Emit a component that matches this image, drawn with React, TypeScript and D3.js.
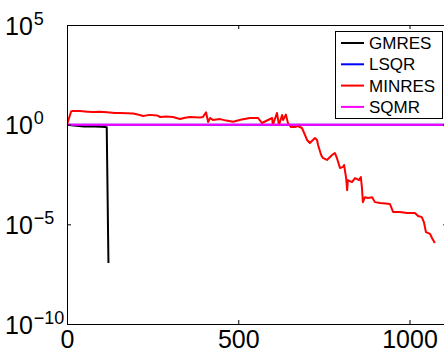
import { useEffect, useRef } from "react";
import * as d3 from "d3";

// iteration counts and relative residuals
const gmresIter = [0, 20, 50, 80, 100, 111, 116, 117, 118, 119, 120, 121];
const gmresRes = [1.0, 0.9, 0.82, 0.8, 0.78, 0.76, 0.74, 0.03, 1.5e-3, 6e-5, 2.5e-6, 1.15e-7];

const lsqrIter = [0, 300, 700, 1110];
const lsqrRes = [1.0, 1.0, 1.0, 1.0];

const minresIter = [
    0, 12, 15, 38, 60, 76, 96, 117, 140, 155, 175, 193, 213, 222, 242, 263, 272,
    290, 309, 330, 345, 359, 388, 397, 406, 412, 418, 426, 447, 465, 485, 510,
    534, 558, 569, 599, 601, 613, 619, 628, 631, 639, 645, 654, 666, 674, 686,
    695, 701, 709, 724, 730, 733, 742, 747, 759, 774, 782, 788, 797, 806, 809,
    815, 818, 820, 832, 841, 853, 858, 861, 864, 870, 879, 891, 899, 914, 930,
    943, 952, 972, 993, 1016, 1025, 1036, 1042, 1048, 1060, 1066, 1074,
];
const minresRes = [
    1.0, 4.6, 4.8, 4.8, 4.5, 4.3, 4.4, 4.2, 3.9, 3.85, 3.7, 3.6, 3.05, 2.7, 3.1,
    2.9, 2.42, 2.6, 2.42, 1.92, 2.2, 2.42, 2.3, 2.4, 4.2, 1.36, 2.16, 1.71, 1.9,
    1.6, 1.4, 1.8, 2.16, 2.16, 1.21, 2.16, 0.96, 3.85, 0.96, 3.05, 1.71, 3.2,
    1.21, 0.76, 0.76, 0.855, 0.68, 0.303, 0.17, 0.12, 0.214, 0.17, 0.095, 0.03,
    0.0214, 0.017, 0.03, 0.038, 0.0214, 0.0067, 0.0076, 0.0095, 0.0021, 0.00052,
    0.00166, 0.00132, 0.0021, 0.00166, 0.00234, 0.00074, 0.00013, 0.00023,
    0.00021, 0.00023, 0.00013, 0.000117, 0.00011, 0.000104, 0.000042, 0.000042,
    0.000037, 0.000037, 0.000026, 0.000023, 0.000013, 0.0000041, 0.0000033,
    0.000002, 0.00000115,
];

const sqmrIter = [0, 180, 600, 1110];
const sqmrRes = [1.0, 1.0, 1.0, 1.0];

const seriesNames = ["GMRES", "LSQR", "MINRES", "SQMR"];
const seriesColors = ["#000000", "#0000ff", "#ff0000", "#ff00ff"];

const xTicks = [0, 500, 1000];
const yTickExp = [5, 0, -5, -10];

export default function App() {
    const ref = useRef<SVGSVGElement>(null);

    useEffect(() => {
        const svg = d3.select(ref.current);
        svg.selectAll("*").remove();

        const left = 67;
        const top = 25;
        const bottom = 324;
        const right = left + 1110 * 0.3425;

        const x = d3.scaleLinear().domain([0, 1110]).range([left, right]);
        const y = d3.scaleLog().domain([1e-10, 1e5]).range([bottom, top]);

        const font = "'Liberation Sans', Arial, sans-serif";

        svg.append("defs")
            .append("clipPath")
            .attr("id", "plot-clip")
            .append("rect")
            .attr("x", left)
            .attr("y", top)
            .attr("width", right - left)
            .attr("height", bottom - top);

        const plot = svg.append("g").attr("clip-path", "url(#plot-clip)");

        const allSeries = [
            { it: gmresIter, r: gmresRes },
            { it: lsqrIter, r: lsqrRes },
            { it: minresIter, r: minresRes },
            { it: sqmrIter, r: sqmrRes },
        ];

        const line = d3
            .line<[number, number]>()
            .x((d) => x(d[0]))
            .y((d) => y(d[1]));

        allSeries.forEach((s, i) => {
            plot.append("path")
                .datum(s.it.map((v, j) => [v, s.r[j]] as [number, number]))
                .attr("fill", "none")
                .attr("stroke", seriesColors[i])
                .attr("stroke-width", 2)
                .attr("stroke-linejoin", "round")
                .attr("d", line);
        });

        // axes, ticks pointing inside like matlab
        const yTickVals = yTickExp.map((e) => Math.pow(10, e));

        svg.append("g")
            .attr("transform", `translate(0,${bottom})`)
            .call(
                d3.axisBottom(x)
                    .tickValues(xTicks)
                    .tickSize(-4)
                    .tickSizeOuter(0)
                    .tickPadding(6)
                    .tickFormat(d3.format("d"))
            )
            .call((g) => g.selectAll("text").attr("font-size", 25).attr("font-family", font).attr("fill", "#000"));

        svg.append("g")
            .attr("transform", `translate(0,${top})`)
            .call(d3.axisTop(x).tickValues(xTicks).tickSize(-4).tickSizeOuter(0).tickFormat(() => ""));

        svg.append("g")
            .attr("transform", `translate(${left},0)`)
            .call(d3.axisLeft(y).tickValues(yTickVals).tickSize(-4).tickSizeOuter(0).tickFormat(() => ""));

        svg.append("g")
            .attr("transform", `translate(${right},0)`)
            .call(d3.axisRight(y).tickValues(yTickVals).tickSize(-4).tickSizeOuter(0).tickFormat(() => ""));

        svg.selectAll(".domain, .tick line").attr("stroke", "#000");

        // y tick labels as 10^n, left aligned
        yTickExp.forEach((e) => {
            const yy = y(Math.pow(10, e));
            const t = svg.append("text")
                .attr("x", 5)
                .attr("y", yy + 9.5)
                .attr("font-family", font)
                .attr("font-size", 25)
                .attr("fill", "#000");
            t.append("tspan").text("10");
            t.append("tspan")
                .attr("font-size", 18)
                .attr("dy", -10)
                .attr("dx", 1)
                .text(e < 0 ? "\u2212" + Math.abs(e) : String(e));
        });

        // legend
        const lg = svg.append("g");
        lg.append("rect")
            .attr("x", 335.5)
            .attr("y", 31.5)
            .attr("width", 107)
            .attr("height", 87)
            .attr("fill", "#fff")
            .attr("stroke", "#000");

        seriesNames.forEach((name, i) => {
            const ly = 43 + i * 21.3;
            lg.append("line")
                .attr("x1", 341)
                .attr("x2", 364)
                .attr("y1", ly)
                .attr("y2", ly)
                .attr("stroke", seriesColors[i])
                .attr("stroke-width", 2);
            lg.append("text")
                .attr("x", 369)
                .attr("y", ly + 6)
                .attr("font-family", font)
                .attr("font-size", 17)
                .attr("fill", "#000")
                .text(name);
        });
    }, []);

    return (
        <svg
            ref={ref}
            width={444}
            height={351}
            style={{ position: "absolute", left: 0, top: 0, background: "#fff" }}
        ></svg>
    );
}
